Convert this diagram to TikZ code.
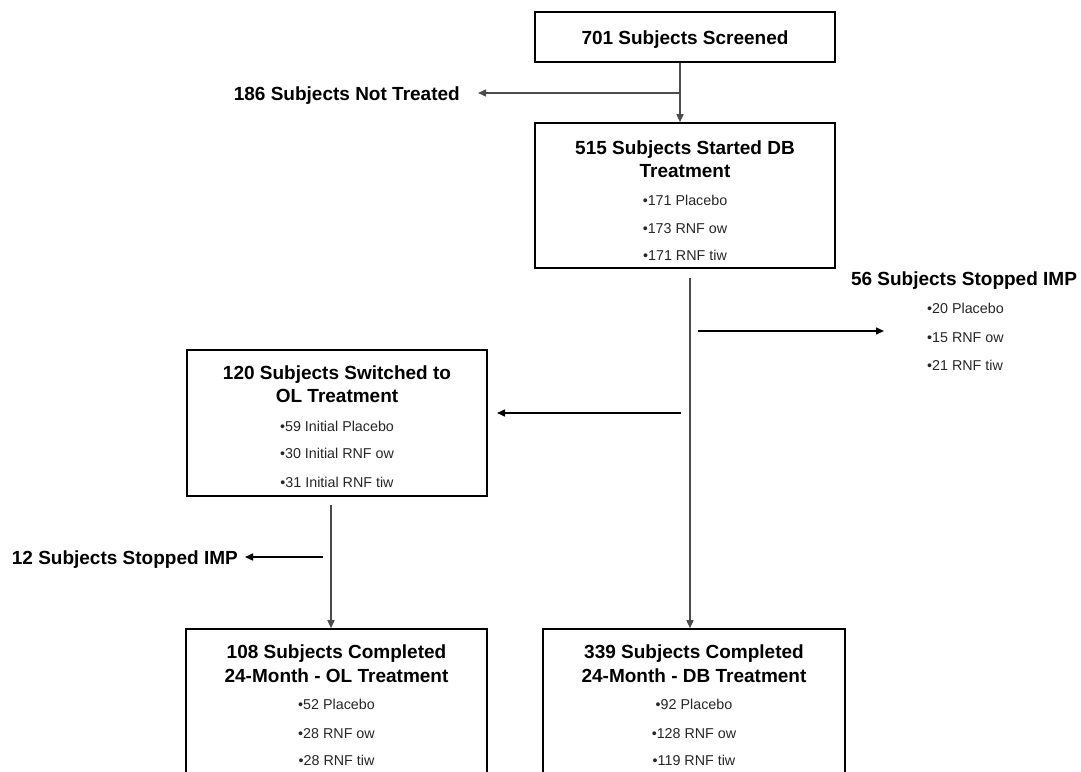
\documentclass[tikz,border=0pt]{standalone}
\usepackage{fontspec}
\setmainfont{Liberation Sans}
\usetikzlibrary{arrows.meta}
\begin{document}
\begin{tikzpicture}[x=1pt,y=-1pt,
  box/.style={draw, line width=1.6pt, inner sep=0pt},
  ttl/.style={font=\fontsize{19}{23}\selectfont\bfseries, anchor=base, inner sep=0pt},
  itm/.style={font=\fontsize{14.3}{17}\selectfont, anchor=base, inner sep=0pt, text=black!85},
  arr/.style={-{Triangle[length=8pt,width=7pt]}, line width=1.5pt},
  vline/.style={arr, draw=black!70}]
\useasboundingbox (0,0) rectangle (1081,771);
\clip (0,0) rectangle (1081,771);

% boxes
\node[box, minimum width=300pt, minimum height=50pt]  (b1) at (685,37) {};
\node[box, minimum width=300pt, minimum height=145pt] (b2) at (685,195.5) {};
\node[box, minimum width=300pt, minimum height=146pt] (b3) at (337,423) {};
\node[box, minimum width=301pt, minimum height=200pt] (b4) at (336.5,729) {};
\node[box, minimum width=302pt, minimum height=200pt] (b5) at (694,729) {};

% box texts
\node[ttl] (t1) at (685,44) {701 Subjects Screened};

\node[ttl] (t2a) at (685,154) {515 Subjects Started DB};
\node[ttl] (t2b) at (685,177) {Treatment};
\node[itm] (t2c) at (685,205) {•171 Placebo};
\node[itm] (t2d) at (685,233) {•173 RNF ow};
\node[itm] (t2e) at (685,260) {•171 RNF tiw};

\node[ttl] (t3a) at (337,379) {120 Subjects Switched to};
\node[ttl] (t3b) at (337,402) {OL Treatment};
\node[itm] (t3c) at (337,431) {•59 Initial Placebo};
\node[itm] (t3d) at (337,458) {•30 Initial RNF ow};
\node[itm] (t3e) at (337,487) {•31 Initial RNF tiw};

\node[ttl] (t4a) at (336.5,658) {108 Subjects Completed};
\node[ttl] (t4b) at (336.5,682) {24-Month - OL Treatment};
\node[itm] (t4c) at (336.5,709) {•52 Placebo};
\node[itm] (t4d) at (336.5,738) {•28 RNF ow};
\node[itm] (t4e) at (336.5,765) {•28 RNF tiw};

\node[ttl] (t5a) at (694,658) {339 Subjects Completed};
\node[ttl] (t5b) at (694,682) {24-Month - DB Treatment};
\node[itm] (t5c) at (694,709) {•92 Placebo};
\node[itm] (t5d) at (694,738) {•128 RNF ow};
\node[itm] (t5e) at (694,765) {•119 RNF tiw};

% side labels
\node[ttl, anchor=base east] (nt) at (460,100) {186 Subjects Not Treated};
\node[ttl] (s56) at (964,285) {56 Subjects Stopped IMP};
\node[itm, anchor=base west] (s56a) at (927,313) {•20 Placebo};
\node[itm, anchor=base west] (s56b) at (927,342) {•15 RNF ow};
\node[itm, anchor=base west] (s56c) at (927,370) {•21 RNF tiw};
\node[ttl, anchor=base east] (s12) at (238,564) {12 Subjects Stopped IMP};

% connector coordinates
\coordinate (c1) at (680,93);
\coordinate (c1e) at (478,93);
\coordinate (tr) at (690,278);
\coordinate (r1) at (698,331);
\coordinate (r1e) at (884,331);
\coordinate (l1) at (681,413);
\coordinate (l1e) at (497,413);
\coordinate (tr2) at (331,505);
\coordinate (l2) at (323,557);
\coordinate (l2e) at (245,557);

% connectors
\draw[vline] (b1.south -| c1) -- (b2.north -| c1);
\draw[arr, draw=black!70] (c1) -- (c1e);
\draw[vline] (tr) -- (tr |- b5.north);
\draw[arr] (r1) -- (r1e);
\draw[arr] (l1) -- (l1e);
\draw[vline] (tr2) -- (tr2 |- b4.north);
\draw[arr] (l2) -- (l2e);
\end{tikzpicture}
\end{document}
